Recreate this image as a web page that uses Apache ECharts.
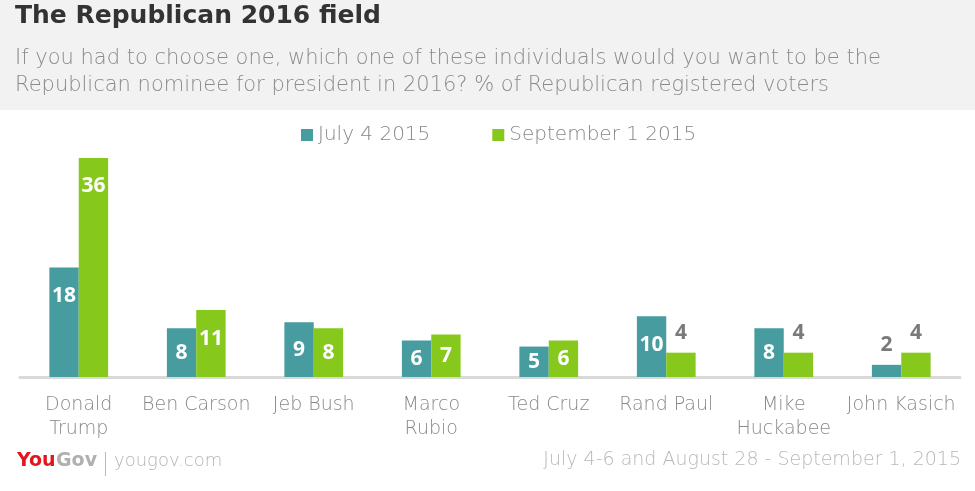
<!DOCTYPE html>
<html><head><meta charset="utf-8">
<script src="https://cdn.jsdelivr.net/npm/echarts@6/dist/echarts.min.js"></script>
<style>html,body{margin:0;padding:0;background:#fff}#c{width:975px;height:491px}</style>
</head><body><div id="c"></div>
<script>
const categories = ['Donald\nTrump','Ben Carson','Jeb Bush','Marco\nRubio','Ted Cruz','Rand Paul','Mike\nHuckabee','John Kasich'];
const july = [18, 8, 9, 6, 5, 10, 8, 2];
const sept = [36, 11, 8, 7, 6, 4, 4, 4];
const seriesNames = ['July 4 2015', 'September 1 2015'];
const colors = ['#469c9f', '#86c81c'];
const FONT = '"DejaVu Sans", sans-serif';
const NUMFONT = '"Open Sans", Lato, sans-serif';

function items(arr){
  return arr.map(v => {
    if (v < 5) return {value: v, label: {position: 'top', color: '#7a7a7a', distance: 9}};
    if (v < 10) return {value: v, label: {position: 'inside'}};
    return {value: v};
  });
}
const valueLabel = {show: true, position: 'insideTop', distance: 18, color: '#fff', fontSize: 21, fontWeight: 'bold', fontFamily: NUMFONT};
const chart = echarts.init(document.getElementById('c'));
chart.setOption({
  animation: false,
  textStyle: {fontFamily: FONT},
  graphic: [
    {type: 'rect', shape: {x: 0, y: 0, width: 975, height: 110}, style: {fill: '#f2f2f2'}, z: -10},
    {type: 'text', left: 15, top: 4, style: {text: 'The Republican 2016 field', font: 'bold 25px ' + FONT, fill: '#333333'}},
    {type: 'text', left: 15, top: 45, style: {text: 'If you had to choose one, which one of these individuals would you want to be the\nRepublican nominee for president in 2016? % of Republican registered voters', font: '200 21px ' + FONT, fill: '#8a8a8a', lineHeight: 27}},
    {type: 'text', left: 17, top: 452, style: {text: 'You', font: 'bold 19px ' + FONT, fill: '#e3141b'}},
    {type: 'text', left: 56, top: 452, style: {text: 'Gov', font: 'bold 19px ' + FONT, fill: '#b0b0b0'}},
    {type: 'rect', shape: {x: 105, y: 452, width: 1, height: 24}, style: {fill: '#bbbbbb'}},
    {type: 'text', left: 114, top: 452, style: {text: 'yougov.com', font: '200 18px ' + FONT, fill: '#b5b5b5'}},
    {type: 'text', right: 14, top: 451, style: {text: 'July 4-6 and August 28 - September 1, 2015', font: '200 19px ' + FONT, fill: '#b8b8b8'}}
  ],
  legend: {
    top: 120, left: 296, itemWidth: 12, itemHeight: 12, itemGap: 62, icon: 'rect',
    textStyle: {fontSize: 20, color: '#888', fontWeight: 200, fontFamily: FONT},
    data: seriesNames
  },
  grid: {left: 20, right: 15, top: 158, bottom: 114, containLabel: false},
  xAxis: {
    type: 'category', data: categories,
    axisLine: {lineStyle: {color: '#d9d9d9', width: 3}},
    axisTick: {show: false},
    axisLabel: {interval: 0, fontSize: 19, color: '#888', fontWeight: 200, margin: 16, lineHeight: 24, fontFamily: FONT}
  },
  yAxis: {type: 'value', min: 0, max: 36, show: false, splitLine: {show: false}},
  series: [
    {name: seriesNames[0], type: 'bar', data: items(july), color: colors[0], barGap: 0, barCategoryGap: '50%', label: valueLabel},
    {name: seriesNames[1], type: 'bar', data: items(sept), color: colors[1], barGap: 0, barCategoryGap: '50%', label: valueLabel}
  ]
});
</script></body></html>
